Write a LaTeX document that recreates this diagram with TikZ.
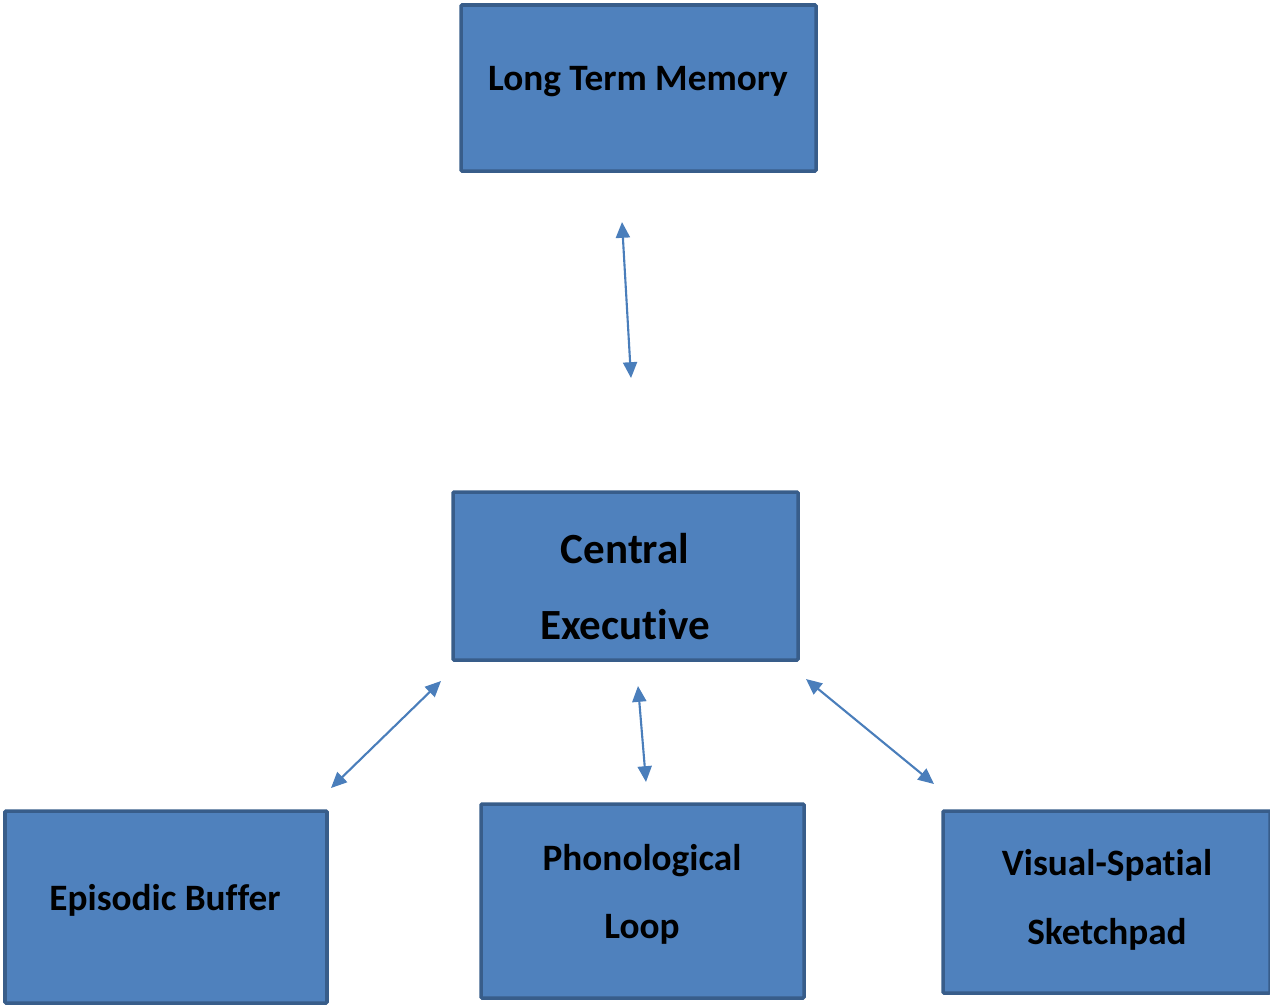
\documentclass[tikz,border=0pt]{standalone}
\usepackage{fontspec}
\setmainfont{Carlito}[RawFeature=-liga]
\usetikzlibrary{arrows.meta}
\definecolor{boxfill}{HTML}{4F81BD}
\definecolor{boxline}{HTML}{385D8A}
\definecolor{arrowcol}{HTML}{4A7EBB}
\begin{document}
\begin{tikzpicture}[x=0.02cm,y=-0.02cm,
  box/.style={draw=boxline,fill=boxfill,line width=2pt,rounded corners=0.6pt,inner sep=0pt},
  lbl/.style={anchor=base,inner sep=0pt,font=\bfseries\fontsize{21.2}{24}\selectfont},
  biglbl/.style={anchor=base,inner sep=0pt,font=\bfseries\fontsize{24.5}{28}\selectfont},
  link/.style={draw=arrowcol,line width=1.2pt,{Triangle[length=9pt,width=8pt]}-{Triangle[length=9pt,width=8pt]}}]
\useasboundingbox (0,0) rectangle (1270,1005);
% boxes
\node[box,minimum width=355*0.02cm,minimum height=166*0.02cm] (ltm) at (638.5,88) {};
\node[box,minimum width=345*0.02cm,minimum height=168*0.02cm] (ce) at (625.5,576) {};
\node[box,minimum width=322*0.02cm,minimum height=192*0.02cm] (eb) at (166,907) {};
\node[box,minimum width=323*0.02cm,minimum height=194*0.02cm] (pl) at (642.5,901) {};
\node[box,minimum width=327*0.02cm,minimum height=182*0.02cm] (vs) at (1106.5,902) {};
% texts
\node[lbl] (ltmt) at (638,90) {Long Term Memory};
\node[biglbl] (cet1) at (625,563) {Central};
\node[biglbl] (cet2) at (625,639) {Executive};
\node[lbl] (ebt) at (165,910) {Episodic Buffer};
\node[lbl] (plt1) at (642,870) {Phonological};
\node[lbl] (plt2) at (642,938) {Loop};
\node[lbl] (vst1) at (1107,875) {Visual-Spatial};
\node[lbl] (vst2) at (1107,944) {Sketchpad};
% arrow end points
\coordinate (a1s) at (622,222);
\coordinate (a1e) at (631,378);
\coordinate (a2s) at (441,681);
\coordinate (a2e) at (331,788);
\coordinate (a3s) at (638,686);
\coordinate (a3e) at (646,782);
\coordinate (a4s) at (806,679);
\coordinate (a4e) at (934,784);
\draw[link] (a1s) -- (a1e);
\draw[link] (a2s) -- (a2e);
\draw[link] (a3s) -- (a3e);
\draw[link] (a4s) -- (a4e);
\end{tikzpicture}
\end{document}
